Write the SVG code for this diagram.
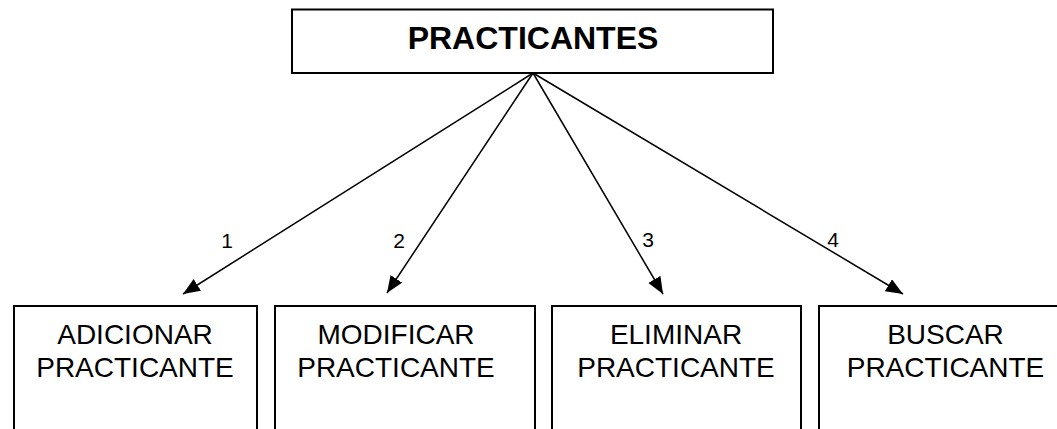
<svg xmlns="http://www.w3.org/2000/svg" width="1057" height="429" viewBox="0 0 1057 429">
<style>
.box{fill:#fff;stroke:#000;stroke-width:2}
.t{font-family:"Liberation Sans",Arial,sans-serif;font-size:28px;fill:#000;text-anchor:middle}
.title{font-family:"Liberation Sans",Arial,sans-serif;font-size:32px;font-weight:bold;fill:#000;text-anchor:middle}
.lbl{font-family:"Liberation Sans",Arial,sans-serif;font-size:21px;fill:#000;text-anchor:middle}
.ln{stroke:#000;stroke-width:1.5;fill:none;marker-end:url(#ah)}
</style>
<defs>
<marker id="ah" markerUnits="userSpaceOnUse" markerWidth="20" markerHeight="16" refX="17" refY="7" orient="auto">
<path d="M0,0 L17,7 L0,14 Z" fill="#000"/>
</marker>
</defs>
<rect width="1057" height="429" fill="#fff"/>
<g id="practicantes">
<rect class="box" x="292" y="9.5" width="481" height="63.5"/>
<text class="title" x="533" y="49">PRACTICANTES</text>
</g>
<g id="adicionar">
<rect class="box" x="14" y="306" width="243" height="130"/>
<text class="t" x="135" y="344">ADICIONAR</text>
<text class="t" x="135" y="377">PRACTICANTE</text>
</g>
<g id="modificar">
<rect class="box" x="275" y="306" width="260" height="130"/>
<text class="t" x="396" y="344">MODIFICAR</text>
<text class="t" x="396" y="377">PRACTICANTE</text>
</g>
<g id="eliminar">
<rect class="box" x="552" y="306" width="249" height="130"/>
<text class="t" x="676" y="344">ELIMINAR</text>
<text class="t" x="676" y="377">PRACTICANTE</text>
</g>
<g id="buscar">
<rect class="box" x="819" y="306" width="260" height="130"/>
<text class="t" x="945.5" y="344">BUSCAR</text>
<text class="t" x="945.5" y="377">PRACTICANTE</text>
</g>
<g id="connectors">
<line class="ln" x1="533" y1="73" x2="183" y2="294"/>
<line class="ln" x1="533" y1="73" x2="387" y2="293"/>
<line class="ln" x1="533" y1="73" x2="663" y2="294"/>
<line class="ln" x1="533" y1="73" x2="903" y2="294"/>
<text class="lbl" x="227" y="248">1</text>
<text class="lbl" x="399" y="248">2</text>
<text class="lbl" x="648" y="247">3</text>
<text class="lbl" x="833" y="247">4</text>
</g>
</svg>
